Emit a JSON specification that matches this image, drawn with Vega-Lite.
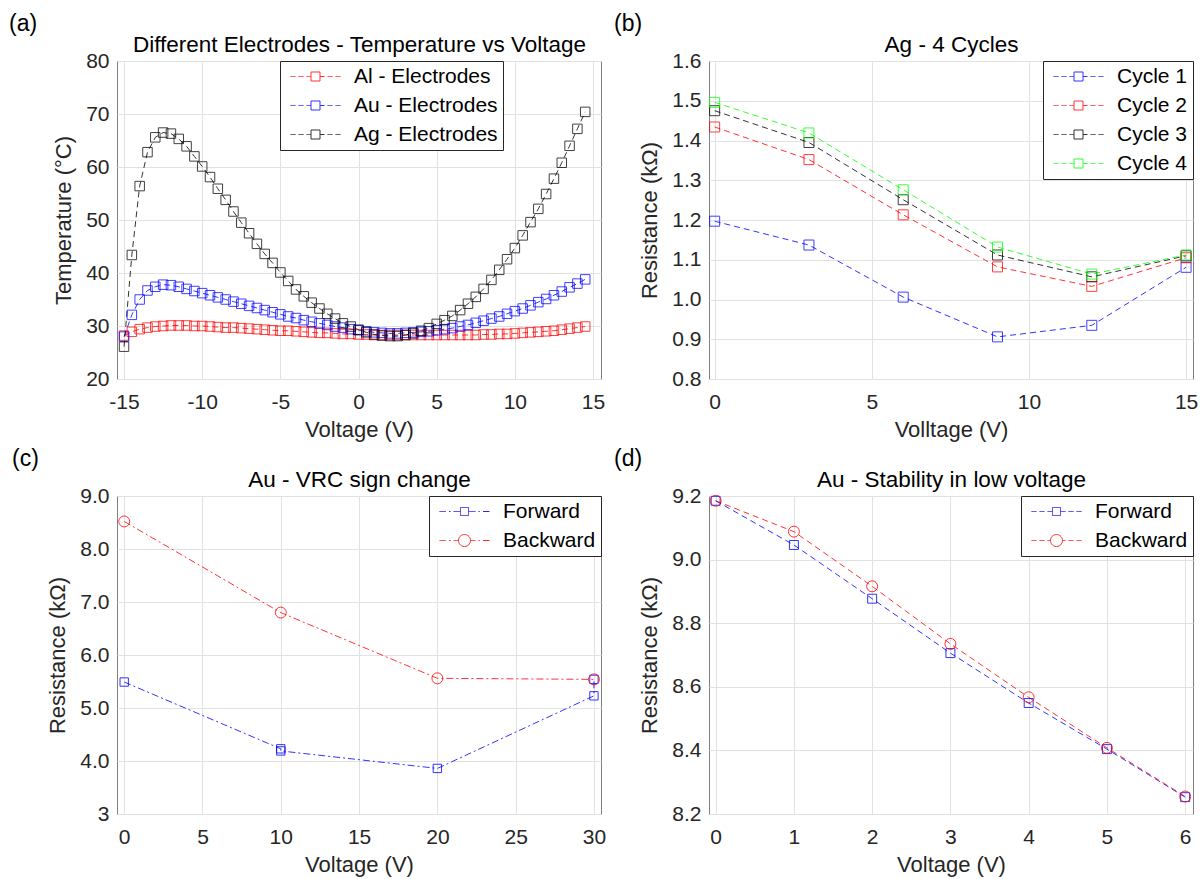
{
"$schema": "https://vega.github.io/schema/vega-lite/v6.json",
"padding": {"left": 8, "top": 12, "right": 5, "bottom": 2},
"background": "white",
"columns": 2,
"bounds": "flush",
"spacing": {"row": 117, "column": 108},
"resolve": {"scale": {"color": "independent", "shape": "independent", "x": "independent", "y": "independent"}, "legend": {"color": "independent"}},
"datasets": {
"ta": [
{"v":-15,"s":"Al - Electrodes","t":28.2},{"v":-14.5,"s":"Al - Electrodes","t":28.9},{"v":-14,"s":"Al - Electrodes","t":29.4},{"v":-13.5,"s":"Al - Electrodes","t":29.7},{"v":-13,"s":"Al - Electrodes","t":29.9},{"v":-12.5,"s":"Al - Electrodes","t":30.0},{"v":-12,"s":"Al - Electrodes","t":30.1},{"v":-11.5,"s":"Al - Electrodes","t":30.1},{"v":-11,"s":"Al - Electrodes","t":30.1},{"v":-10.5,"s":"Al - Electrodes","t":30.0},
{"v":-10,"s":"Al - Electrodes","t":30.0},{"v":-9.5,"s":"Al - Electrodes","t":29.9},{"v":-9,"s":"Al - Electrodes","t":29.8},{"v":-8.5,"s":"Al - Electrodes","t":29.7},{"v":-8,"s":"Al - Electrodes","t":29.7},{"v":-7.5,"s":"Al - Electrodes","t":29.6},{"v":-7,"s":"Al - Electrodes","t":29.5},{"v":-6.5,"s":"Al - Electrodes","t":29.4},{"v":-6,"s":"Al - Electrodes","t":29.3},{"v":-5.5,"s":"Al - Electrodes","t":29.2},
{"v":-5,"s":"Al - Electrodes","t":29.1},{"v":-4.5,"s":"Al - Electrodes","t":29.1},{"v":-4,"s":"Al - Electrodes","t":29.0},{"v":-3.5,"s":"Al - Electrodes","t":28.9},{"v":-3,"s":"Al - Electrodes","t":28.8},{"v":-2.5,"s":"Al - Electrodes","t":28.7},{"v":-2,"s":"Al - Electrodes","t":28.7},{"v":-1.5,"s":"Al - Electrodes","t":28.6},{"v":-1,"s":"Al - Electrodes","t":28.5},{"v":-0.5,"s":"Al - Electrodes","t":28.5},
{"v":0,"s":"Al - Electrodes","t":28.4},{"v":0.5,"s":"Al - Electrodes","t":28.4},{"v":1,"s":"Al - Electrodes","t":28.3},{"v":1.5,"s":"Al - Electrodes","t":28.3},{"v":2,"s":"Al - Electrodes","t":28.3},{"v":2.5,"s":"Al - Electrodes","t":28.3},{"v":3,"s":"Al - Electrodes","t":28.3},{"v":3.5,"s":"Al - Electrodes","t":28.3},{"v":4,"s":"Al - Electrodes","t":28.3},{"v":4.5,"s":"Al - Electrodes","t":28.3},
{"v":5,"s":"Al - Electrodes","t":28.3},{"v":5.5,"s":"Al - Electrodes","t":28.3},{"v":6,"s":"Al - Electrodes","t":28.3},{"v":6.5,"s":"Al - Electrodes","t":28.3},{"v":7,"s":"Al - Electrodes","t":28.3},{"v":7.5,"s":"Al - Electrodes","t":28.3},{"v":8,"s":"Al - Electrodes","t":28.4},{"v":8.5,"s":"Al - Electrodes","t":28.4},{"v":9,"s":"Al - Electrodes","t":28.5},{"v":9.5,"s":"Al - Electrodes","t":28.5},
{"v":10,"s":"Al - Electrodes","t":28.6},{"v":10.5,"s":"Al - Electrodes","t":28.7},{"v":11,"s":"Al - Electrodes","t":28.8},{"v":11.5,"s":"Al - Electrodes","t":28.9},{"v":12,"s":"Al - Electrodes","t":29.0},{"v":12.5,"s":"Al - Electrodes","t":29.1},{"v":13,"s":"Al - Electrodes","t":29.3},{"v":13.5,"s":"Al - Electrodes","t":29.5},{"v":14,"s":"Al - Electrodes","t":29.7},{"v":14.5,"s":"Al - Electrodes","t":29.9},
{"v":-15,"s":"Au - Electrodes","t":28.0},{"v":-14.5,"s":"Au - Electrodes","t":32.1},{"v":-14,"s":"Au - Electrodes","t":35.0},{"v":-13.5,"s":"Au - Electrodes","t":36.7},{"v":-13,"s":"Au - Electrodes","t":37.4},{"v":-12.5,"s":"Au - Electrodes","t":37.8},{"v":-12,"s":"Au - Electrodes","t":37.7},{"v":-11.5,"s":"Au - Electrodes","t":37.4},{"v":-11,"s":"Au - Electrodes","t":37.0},{"v":-10.5,"s":"Au - Electrodes","t":36.6},
{"v":-10,"s":"Au - Electrodes","t":36.2},{"v":-9.5,"s":"Au - Electrodes","t":35.8},{"v":-9,"s":"Au - Electrodes","t":35.4},{"v":-8.5,"s":"Au - Electrodes","t":35.0},{"v":-8,"s":"Au - Electrodes","t":34.6},{"v":-7.5,"s":"Au - Electrodes","t":34.2},{"v":-7,"s":"Au - Electrodes","t":33.8},{"v":-6.5,"s":"Au - Electrodes","t":33.4},{"v":-6,"s":"Au - Electrodes","t":33.0},{"v":-5.5,"s":"Au - Electrodes","t":32.6},
{"v":-5,"s":"Au - Electrodes","t":32.2},{"v":-4.5,"s":"Au - Electrodes","t":31.8},{"v":-4,"s":"Au - Electrodes","t":31.5},{"v":-3.5,"s":"Au - Electrodes","t":31.1},{"v":-3,"s":"Au - Electrodes","t":30.8},{"v":-2.5,"s":"Au - Electrodes","t":30.5},{"v":-2,"s":"Au - Electrodes","t":30.2},{"v":-1.5,"s":"Au - Electrodes","t":29.9},{"v":-1,"s":"Au - Electrodes","t":29.7},{"v":-0.5,"s":"Au - Electrodes","t":29.4},
{"v":0,"s":"Au - Electrodes","t":29.2},{"v":0.5,"s":"Au - Electrodes","t":29.0},{"v":1,"s":"Au - Electrodes","t":28.8},{"v":1.5,"s":"Au - Electrodes","t":28.7},{"v":2,"s":"Au - Electrodes","t":28.6},{"v":2.5,"s":"Au - Electrodes","t":28.6},{"v":3,"s":"Au - Electrodes","t":28.7},{"v":3.5,"s":"Au - Electrodes","t":28.8},{"v":4,"s":"Au - Electrodes","t":28.9},{"v":4.5,"s":"Au - Electrodes","t":29.0},
{"v":5,"s":"Au - Electrodes","t":29.2},{"v":5.5,"s":"Au - Electrodes","t":29.4},{"v":6,"s":"Au - Electrodes","t":29.6},{"v":6.5,"s":"Au - Electrodes","t":29.9},{"v":7,"s":"Au - Electrodes","t":30.2},{"v":7.5,"s":"Au - Electrodes","t":30.6},{"v":8,"s":"Au - Electrodes","t":31.0},{"v":8.5,"s":"Au - Electrodes","t":31.4},{"v":9,"s":"Au - Electrodes","t":31.8},{"v":9.5,"s":"Au - Electrodes","t":32.3},
{"v":10,"s":"Au - Electrodes","t":32.8},{"v":10.5,"s":"Au - Electrodes","t":33.3},{"v":11,"s":"Au - Electrodes","t":33.9},{"v":11.5,"s":"Au - Electrodes","t":34.5},{"v":12,"s":"Au - Electrodes","t":35.1},{"v":12.5,"s":"Au - Electrodes","t":35.8},{"v":13,"s":"Au - Electrodes","t":36.5},{"v":13.5,"s":"Au - Electrodes","t":37.3},{"v":14,"s":"Au - Electrodes","t":38.0},{"v":14.5,"s":"Au - Electrodes","t":38.8},
{"v":-15,"s":"Ag - Electrodes","t":26.1},{"v":-14.5,"s":"Ag - Electrodes","t":43.4},{"v":-14,"s":"Ag - Electrodes","t":56.4},{"v":-13.5,"s":"Ag - Electrodes","t":62.8},{"v":-13,"s":"Ag - Electrodes","t":65.6},{"v":-12.5,"s":"Ag - Electrodes","t":66.5},{"v":-12,"s":"Ag - Electrodes","t":66.3},{"v":-11.5,"s":"Ag - Electrodes","t":65.3},{"v":-11,"s":"Ag - Electrodes","t":63.9},{"v":-10.5,"s":"Ag - Electrodes","t":62.0},
{"v":-10,"s":"Ag - Electrodes","t":60.1},{"v":-9.5,"s":"Ag - Electrodes","t":58.1},{"v":-9,"s":"Ag - Electrodes","t":55.9},{"v":-8.5,"s":"Ag - Electrodes","t":53.8},{"v":-8,"s":"Ag - Electrodes","t":51.6},{"v":-7.5,"s":"Ag - Electrodes","t":49.5},{"v":-7,"s":"Ag - Electrodes","t":47.5},{"v":-6.5,"s":"Ag - Electrodes","t":45.5},{"v":-6,"s":"Ag - Electrodes","t":43.6},{"v":-5.5,"s":"Ag - Electrodes","t":41.9},
{"v":-5,"s":"Ag - Electrodes","t":40.1},{"v":-4.5,"s":"Ag - Electrodes","t":38.5},{"v":-4,"s":"Ag - Electrodes","t":36.9},{"v":-3.5,"s":"Ag - Electrodes","t":35.6},{"v":-3,"s":"Ag - Electrodes","t":34.4},{"v":-2.5,"s":"Ag - Electrodes","t":33.3},{"v":-2,"s":"Ag - Electrodes","t":32.3},{"v":-1.5,"s":"Ag - Electrodes","t":31.4},{"v":-1,"s":"Ag - Electrodes","t":30.5},{"v":-0.5,"s":"Ag - Electrodes","t":29.9},
{"v":0,"s":"Ag - Electrodes","t":29.3},{"v":0.5,"s":"Ag - Electrodes","t":28.8},{"v":1,"s":"Ag - Electrodes","t":28.4},{"v":1.5,"s":"Ag - Electrodes","t":28.2},{"v":2,"s":"Ag - Electrodes","t":28.1},{"v":2.5,"s":"Ag - Electrodes","t":28.1},{"v":3,"s":"Ag - Electrodes","t":28.3},{"v":3.5,"s":"Ag - Electrodes","t":28.6},{"v":4,"s":"Ag - Electrodes","t":29.1},{"v":4.5,"s":"Ag - Electrodes","t":29.6},
{"v":5,"s":"Ag - Electrodes","t":30.4},{"v":5.5,"s":"Ag - Electrodes","t":31.1},{"v":6,"s":"Ag - Electrodes","t":31.9},{"v":6.5,"s":"Ag - Electrodes","t":33.0},{"v":7,"s":"Ag - Electrodes","t":34.2},{"v":7.5,"s":"Ag - Electrodes","t":35.5},{"v":8,"s":"Ag - Electrodes","t":37.0},{"v":8.5,"s":"Ag - Electrodes","t":38.7},{"v":9,"s":"Ag - Electrodes","t":40.6},{"v":9.5,"s":"Ag - Electrodes","t":42.6},
{"v":10,"s":"Ag - Electrodes","t":44.7},{"v":10.5,"s":"Ag - Electrodes","t":47.1},{"v":11,"s":"Ag - Electrodes","t":49.6},{"v":11.5,"s":"Ag - Electrodes","t":52.1},{"v":12,"s":"Ag - Electrodes","t":54.9},{"v":12.5,"s":"Ag - Electrodes","t":57.8},{"v":13,"s":"Ag - Electrodes","t":60.8},{"v":13.5,"s":"Ag - Electrodes","t":64.0},{"v":14,"s":"Ag - Electrodes","t":67.2},{"v":14.5,"s":"Ag - Electrodes","t":70.4}
],
"tb": [
{"v":0,"s":"Cycle 1","r":1.197},{"v":3,"s":"Cycle 1","r":1.137},{"v":6,"s":"Cycle 1","r":1.006},{"v":9,"s":"Cycle 1","r":0.906},{"v":12,"s":"Cycle 1","r":0.935},{"v":15,"s":"Cycle 1","r":1.081},
{"v":0,"s":"Cycle 2","r":1.434},{"v":3,"s":"Cycle 2","r":1.352},{"v":6,"s":"Cycle 2","r":1.213},{"v":9,"s":"Cycle 2","r":1.082},{"v":12,"s":"Cycle 2","r":1.033},{"v":15,"s":"Cycle 2","r":1.105},
{"v":0,"s":"Cycle 3","r":1.475},{"v":3,"s":"Cycle 3","r":1.395},{"v":6,"s":"Cycle 3","r":1.251},{"v":9,"s":"Cycle 3","r":1.112},{"v":12,"s":"Cycle 3","r":1.057},{"v":15,"s":"Cycle 3","r":1.110},
{"v":0,"s":"Cycle 4","r":1.496},{"v":3,"s":"Cycle 4","r":1.419},{"v":6,"s":"Cycle 4","r":1.276},{"v":9,"s":"Cycle 4","r":1.132},{"v":12,"s":"Cycle 4","r":1.064},{"v":15,"s":"Cycle 4","r":1.112}
],
"tc": [
{"i":0,"v":0,"s":"Forward","r":5.49},{"i":1,"v":10,"s":"Forward","r":4.23},{"i":2,"v":10,"s":"Forward","r":4.19},{"i":3,"v":20,"s":"Forward","r":3.86},{"i":4,"v":30,"s":"Forward","r":5.23},{"i":5,"v":30,"s":"Forward","r":5.54},
{"i":0,"v":0,"s":"Backward","r":8.52},{"i":1,"v":10,"s":"Backward","r":6.80},{"i":2,"v":20,"s":"Backward","r":5.56},{"i":3,"v":30,"s":"Backward","r":5.54}
],
"td": [
{"v":0,"s":"Forward","r":9.185},{"v":1,"s":"Forward","r":9.046},{"v":2,"s":"Forward","r":8.877},{"v":3,"s":"Forward","r":8.706},{"v":4,"s":"Forward","r":8.549},{"v":5,"s":"Forward","r":8.404},{"v":6,"s":"Forward","r":8.253},
{"v":0,"s":"Backward","r":9.185},{"v":1,"s":"Backward","r":9.088},{"v":2,"s":"Backward","r":8.916},{"v":3,"s":"Backward","r":8.735},{"v":4,"s":"Backward","r":8.567},{"v":5,"s":"Backward","r":8.408},{"v":6,"s":"Backward","r":8.255}
]
},
"concat": [
{
"width": 484, "height": 318,
"title": {"text": "(a)", "dx": -108},
"data": {"name": "ta"},
"layer": [
{"mark": {"type": "line", "strokeDash": [6, 4], "strokeWidth": 1, "opacity": 0.8},
 "encoding": {
  "x": {"field": "v", "type": "quantitative", "scale": {"domain": [-15.45, 15.51], "nice": false, "zero": false}, "axis": {"values": [-15, -10, -5, 0, 5, 10, 15], "labelExpr": "'' + datum.value", "title": "Voltage (V)"}},
  "y": {"field": "t", "type": "quantitative", "scale": {"domain": [20, 80], "nice": false, "zero": false}, "axis": {"values": [20, 30, 40, 50, 60, 70, 80], "title": "Temperature (°C)"}},
  "color": {"field": "s", "type": "nominal", "scale": {"domain": ["Al - Electrodes", "Au - Electrodes", "Ag - Electrodes"], "range": ["#ff0000", "#0000ff", "#000000"]},
    "legend": {"title": null, "orient": "none", "legendX": 163, "legendY": 0, "symbolType": "M-1,0H0M0.6,0H1.6M2.2,0H3.1M4.9,0H5.8M6.4,0H7.4M8,0H9M3.1,-0.9H4.9V0.9H3.1Z"}}
 }},
{"mark": {"type": "point", "shape": "square", "size": 90, "filled": false, "strokeWidth": 1, "opacity": 0.75},
 "encoding": {
  "x": {"field": "v", "type": "quantitative", "axis": {"orient": "top", "labels": false, "grid": false, "title": "Different Electrodes - Temperature vs Voltage", "titleFontSize": 22.5, "titleColor": "#000000", "titlePadding": 5}},
  "y": {"field": "t", "type": "quantitative", "axis": null},
  "color": {"field": "s", "type": "nominal"}
 }}
],
"resolve": {"axis": {"x": "independent", "y": "independent"}}
},
{
"width": 484, "height": 318,
"title": {"text": "(b)", "dx": -95},
"data": {"name": "tb"},
"layer": [
{"mark": {"type": "line", "strokeDash": [6, 4], "strokeWidth": 1, "opacity": 0.8},
 "encoding": {
  "x": {"field": "v", "type": "quantitative", "scale": {"domain": [-0.18, 15.22], "nice": false, "zero": false}, "axis": {"values": [0, 5, 10, 15], "title": "Volltage (V)"}},
  "y": {"field": "r", "type": "quantitative", "scale": {"domain": [0.8, 1.6], "nice": false, "zero": false}, "axis": {"values": [0.8, 0.9, 1.0, 1.1, 1.2, 1.3, 1.4, 1.5, 1.6], "format": ".1f", "title": "Resistance (kΩ)"}},
  "color": {"field": "s", "type": "nominal", "scale": {"domain": ["Cycle 1", "Cycle 2", "Cycle 3", "Cycle 4"], "range": ["#0000ff", "#ff0000", "#000000", "#00ff00"]},
    "legend": {"title": null, "orient": "top-right", "offset": 0, "symbolType": "M-1,0H0M0.6,0H1.6M2.2,0H3.1M4.9,0H5.8M6.4,0H7.4M8,0H9M3.1,-0.9H4.9V0.9H3.1Z"}}
 }},
{"mark": {"type": "point", "shape": "square", "size": 100, "filled": false, "strokeWidth": 1, "opacity": 0.75},
 "encoding": {
  "x": {"field": "v", "type": "quantitative", "axis": {"orient": "top", "labels": false, "grid": false, "title": "Ag - 4 Cycles", "titleFontSize": 22.5, "titleColor": "#000000", "titlePadding": 5}},
  "y": {"field": "r", "type": "quantitative", "axis": null},
  "color": {"field": "s", "type": "nominal"}
 }}
],
"resolve": {"axis": {"x": "independent", "y": "independent"}}
},
{
"width": 484, "height": 318,
"title": {"text": "(c)", "dx": -105},
"data": {"name": "tc"},
"layer": [
{"mark": {"type": "line", "strokeDash": [7, 3, 2, 3], "strokeWidth": 1, "opacity": 0.8},
 "encoding": {
  "x": {"field": "v", "type": "quantitative", "scale": {"domain": [-0.46, 30.45], "nice": false, "zero": false}, "axis": {"values": [0, 5, 10, 15, 20, 25, 30], "title": "Voltage (V)"}},
  "y": {"field": "r", "type": "quantitative", "scale": {"domain": [3, 9], "nice": false, "zero": false}, "axis": {"values": [3, 4, 5, 6, 7, 8, 9], "labelExpr": "datum.value == 3 ? '3' : format(datum.value, '.1f')", "title": "Resistance (kΩ)"}},
  "color": {"field": "s", "type": "nominal", "scale": {"domain": ["Forward", "Backward"], "range": ["#0000ff", "#ff0000"]},
    "legend": {"title": null, "orient": "top-right", "offset": 0, "symbolOpacity": 0.85, "symbolType": "M-1,0H0.3M0.9,0H1.2M1.8,0H3.2M4.8,0H6.2M6.8,0H7.1M7.7,0H9M3.2,-0.8H4.8V0.8H3.2Z"}},
  "order": {"field": "i"}
 }},
{"mark": {"type": "point", "size": 100, "filled": false, "strokeWidth": 1, "opacity": 0},
 "encoding": {
  "x": {"field": "v", "type": "quantitative", "axis": null},
  "y": {"field": "r", "type": "quantitative", "axis": null},
  "color": {"field": "s", "type": "nominal"},
  "shape": {"field": "s", "type": "nominal", "scale": {"domain": ["Forward", "Backward"], "range": ["M-1,0H0.3M0.9,0H1.2M1.8,0H3.2M4.8,0H6.2M6.8,0H7.1M7.7,0H9M3.2,-0.8H4.8V0.8H3.2Z", "M-1,0H0.3M0.9,0H1.2M1.8,0H2.8M5.2,0H6.2M6.8,0H7.1M7.7,0H9M2.8,0A1.2,1.2 0 1,0 5.2,0A1.2,1.2 0 1,0 2.8,0"]}, "legend": null}
 }},
{"transform": [{"filter": "datum.s == 'Forward'"}],
 "mark": {"type": "point", "shape": "square", "size": 70, "filled": false, "strokeWidth": 1, "opacity": 0.8},
 "encoding": {
  "x": {"field": "v", "type": "quantitative", "axis": {"orient": "top", "labels": false, "grid": false, "title": "Au - VRC sign change", "titleFontSize": 22.5, "titleColor": "#000000", "titlePadding": 5}},
  "y": {"field": "r", "type": "quantitative", "axis": null},
  "color": {"field": "s", "type": "nominal", "legend": null}
 }},
{"transform": [{"filter": "datum.s == 'Backward'"}],
 "mark": {"type": "point", "shape": "circle", "size": 120, "filled": false, "strokeWidth": 1, "opacity": 0.8},
 "encoding": {
  "x": {"field": "v", "type": "quantitative", "axis": null},
  "y": {"field": "r", "type": "quantitative", "axis": null},
  "color": {"field": "s", "type": "nominal", "legend": null}
 }}
],
"resolve": {"axis": {"x": "independent", "y": "independent"}}
},
{
"width": 484, "height": 318,
"title": {"text": "(d)", "dx": -95},
"data": {"name": "td"},
"layer": [
{"mark": {"type": "line", "strokeDash": [6, 4], "strokeWidth": 1, "opacity": 0.8},
 "encoding": {
  "x": {"field": "v", "type": "quantitative", "scale": {"domain": [-0.085, 6.1], "nice": false, "zero": false}, "axis": {"values": [0, 1, 2, 3, 4, 5, 6], "title": "Voltage (V)"}},
  "y": {"field": "r", "type": "quantitative", "scale": {"domain": [8.2, 9.2], "nice": false, "zero": false}, "axis": {"values": [8.2, 8.4, 8.6, 8.8, 9.0, 9.2], "format": ".1f", "title": "Resistance (kΩ)"}},
  "color": {"field": "s", "type": "nominal", "scale": {"domain": ["Forward", "Backward"], "range": ["#0000ff", "#ff0000"]},
    "legend": {"title": null, "orient": "top-right", "offset": 0, "symbolOpacity": 0.85, "symbolType": "M-1,0H0M0.6,0H1.6M2.2,0H3.2M4.8,0H5.8M6.4,0H7.4M8,0H9M3.2,-0.8H4.8V0.8H3.2Z"}}
 }},
{"mark": {"type": "point", "size": 100, "filled": false, "strokeWidth": 1, "opacity": 0},
 "encoding": {
  "x": {"field": "v", "type": "quantitative", "axis": null},
  "y": {"field": "r", "type": "quantitative", "axis": null},
  "color": {"field": "s", "type": "nominal"},
  "shape": {"field": "s", "type": "nominal", "scale": {"domain": ["Forward", "Backward"], "range": ["M-1,0H0M0.6,0H1.6M2.2,0H3.2M4.8,0H5.8M6.4,0H7.4M8,0H9M3.2,-0.8H4.8V0.8H3.2Z", "M-1,0H0M0.6,0H1.6M2.2,0H2.8M5.2,0H5.8M6.4,0H7.4M8,0H9M2.8,0A1.2,1.2 0 1,0 5.2,0A1.2,1.2 0 1,0 2.8,0"]}, "legend": null}
 }},
{"transform": [{"filter": "datum.s == 'Forward'"}],
 "mark": {"type": "point", "shape": "square", "size": 80, "filled": false, "strokeWidth": 1, "opacity": 0.8},
 "encoding": {
  "x": {"field": "v", "type": "quantitative", "axis": {"orient": "top", "labels": false, "grid": false, "title": "Au - Stability in low voltage", "titleFontSize": 22.5, "titleColor": "#000000", "titlePadding": 5}},
  "y": {"field": "r", "type": "quantitative", "axis": null},
  "color": {"field": "s", "type": "nominal", "legend": null}
 }},
{"transform": [{"filter": "datum.s == 'Backward'"}],
 "mark": {"type": "point", "shape": "circle", "size": 120, "filled": false, "strokeWidth": 1, "opacity": 0.8},
 "encoding": {
  "x": {"field": "v", "type": "quantitative", "axis": null},
  "y": {"field": "r", "type": "quantitative", "axis": null},
  "color": {"field": "s", "type": "nominal", "legend": null}
 }}
],
"resolve": {"axis": {"x": "independent", "y": "independent"}}
}
],
"config": {
 "font": "Liberation Sans",
 "view": {"stroke": "#808080", "strokeWidth": 1},
 "axis": {"labelFontSize": 21, "labelColor": "#262626", "titleFontSize": 22, "titleFontWeight": "normal", "titleColor": "#262626", "gridColor": "#e2e2e2", "gridWidth": 1, "domain": false, "ticks": false, "labelPadding": 8},
 "axisX": {"labelPadding": 12, "titlePadding": 7},
 "axisY": {"titlePadding": 10},
 "legend": {"labelFontSize": 21, "labelColor": "#000000", "fillColor": "white", "strokeColor": "#262626", "padding": 5, "rowPadding": 7, "symbolSize": 100, "symbolStrokeWidth": 1, "symbolFillColor": "transparent", "symbolDash": [1, 0], "labelOffset": 48},
 "title": {"fontSize": 23, "fontWeight": "normal", "color": "#000000", "anchor": "start", "frame": "group", "offset": -3}
}
}
